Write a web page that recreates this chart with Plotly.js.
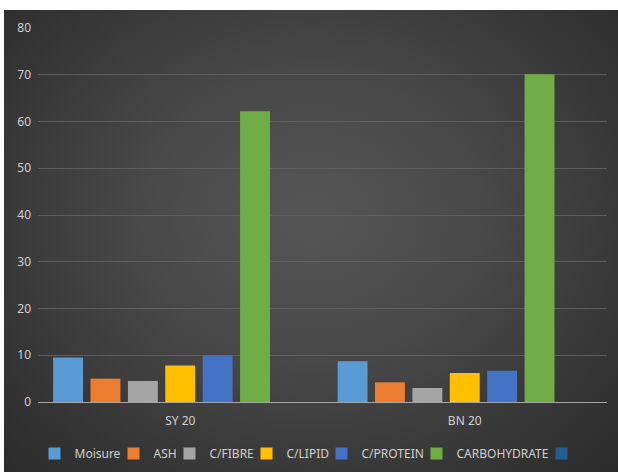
<!DOCTYPE html>
<html>
<head>
<meta charset="utf-8">
<script src="https://cdn.plot.ly/plotly-3.0.1.min.js"></script>
<style>
  html, body { margin: 0; padding: 0; background: #ffffff; }
  #frame {
    position: absolute; left: 4px; top: 10px; width: 614px; height: 462px;
    background: radial-gradient(ellipse at 50% 45%, #565656 0%, #484848 40%, #343434 80%, #2b2b2b 100%);
  }
  #chart { width: 614px; height: 462px; }
</style>
</head>
<body>
<div id="frame"><div id="chart"></div></div>
<script>
// Samples on the category axis
const samples = ["SY 20", "BN 20"];

// Proximate composition (%) for each sample
const moisure      = [9.5, 8.7];
const ash          = [5.0, 4.2];
const fibre        = [4.5, 3.0];
const lipid        = [7.8, 6.2];
const protein      = [10.0, 6.7];
const carbohydrate = [62.2, 70.1];
const unnamed      = [null, null];

const seriesNames  = ["Moisure", "ASH", "C/FIBRE", "C/LIPID", "C/PROTEIN", "CARBOHYDRATE", " "];
const seriesValues = [moisure, ash, fibre, lipid, protein, carbohydrate, unnamed];
const seriesColors = ["#5b9bd5", "#ed7d31", "#a5a5a5", "#ffc000", "#4472c4", "#70ad47", "#255e91"];

const fontFamily = "Noto Sans, Open Sans, sans-serif";
const fontSize = 12;

// Tighten legend entries: each entry's width follows its own label width
const measureCtx = document.createElement("canvas").getContext("2d");
measureCtx.font = fontSize + "px Noto Sans";
function entryWidth(label) {
  return Math.max(1, Math.round(measureCtx.measureText(label).width) - 12);
}

const traces = seriesNames.map((name, i) => ({
  type: "bar",
  name: name,
  x: samples,
  y: seriesValues[i],
  marker: { color: seriesColors[i], line: { width: 0 } },
  showlegend: true,
  legendwidth: entryWidth(name),
  hoverinfo: "x+y+name"
}));

const textColor = "#d0d0d0";
const layout = {
  width: 614,
  height: 462,
  paper_bgcolor: "rgba(0,0,0,0)",
  plot_bgcolor: "rgba(0,0,0,0)",
  margin: { l: 34, r: 11, t: 18, b: 70 },
  barmode: "group",
  bargap: 0.08,
  bargroupgap: 0.2,
  font: { family: fontFamily, size: fontSize, color: textColor },
  xaxis: {
    showgrid: false,
    showline: true,
    linecolor: "#a6a6a6",
    linewidth: 1,
    ticks: "",
    tickfont: { size: fontSize, color: textColor },
    ticklabelstandoff: 8,
    zeroline: false
  },
  yaxis: {
    range: [0, 80],
    dtick: 10,
    showgrid: true,
    gridcolor: "#5e5e5e",
    gridwidth: 1,
    zeroline: false,
    showline: false,
    ticks: "",
    ticklabelstandoff: 6,
    tickfont: { size: fontSize, color: textColor }
  },
  showlegend: true,
  legend: {
    orientation: "h",
    xref: "container",
    x: 0.5, xanchor: "center",
    yref: "container",
    y: 0.04, yanchor: "middle",
    font: { size: fontSize, color: textColor },
    itemwidth: 30,
    traceorder: "normal",
    bgcolor: "rgba(0,0,0,0)"
  }
};

Plotly.newPlot("chart", traces, layout, { displayModeBar: false, staticPlot: true });
</script>
</body>
</html>
